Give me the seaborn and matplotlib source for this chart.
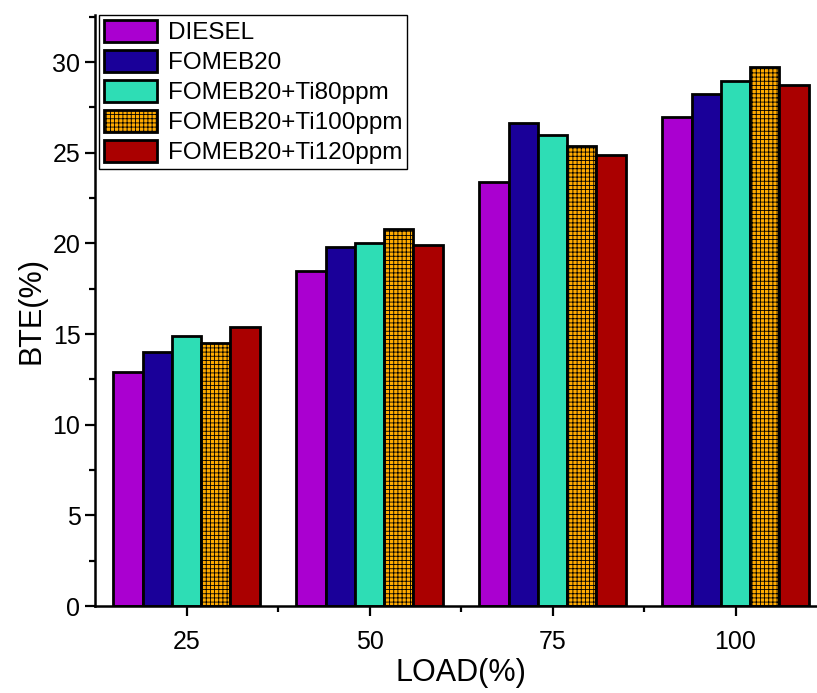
import numpy as np
import pandas as pd
import matplotlib
matplotlib.use("Agg")
import matplotlib.pyplot as plt
import seaborn as sns
from matplotlib.ticker import MultipleLocator, FixedLocator

# values
loads = ["25", "50", "75", "100"]
fuels = ["DIESEL", "FOMEB20", "FOMEB20+Ti80ppm", "FOMEB20+Ti100ppm", "FOMEB20+Ti120ppm"]
diesel = [12.9, 18.5, 23.4, 27.0]
fomeb20 = [14.0, 19.8, 26.65, 28.25]
ti80 = [14.9, 20.05, 26.0, 28.95]
ti100 = [14.5, 20.8, 25.35, 29.75]
ti120 = [15.4, 19.9, 24.85, 28.75]
colors = ["#AA00D0", "#1A0099", "#2EDDB5", "#FFAA00", "#AA0000"]

series = [diesel, fomeb20, ti80, ti100, ti120]
df = pd.DataFrame({
    "LOAD": np.tile(loads, len(fuels)),
    "fuel": np.repeat(fuels, len(loads)),
    "BTE": np.concatenate(series),
})

sns.set_style("ticks")
plt.rcParams["font.family"] = ["Liberation Sans", "DejaVu Sans"]
plt.rcParams["hatch.linewidth"] = 0.6
for key in ["text.color", "axes.labelcolor", "xtick.color", "ytick.color", "axes.edgecolor"]:
    plt.rcParams[key] = "black"

fig = plt.figure(figsize=(8.17, 6.93), dpi=100)
ax = fig.add_axes([95 / 817, 87 / 693, 4 * 183 / 817, 591 / 693])

sns.barplot(data=df, x="LOAD", y="BTE", hue="fuel", order=loads, hue_order=fuels,
            palette=colors, width=0.8, edgecolor="black", linewidth=2,
            saturation=1, ax=ax)

# grid pattern on the Ti100ppm bars
for bar in ax.containers[3]:
    bar.set_hatch("++++")

ax.set_xlim(-0.5, 3.5)
ax.set_ylim(0, 32.6)
ax.yaxis.set_major_locator(MultipleLocator(5))
ax.yaxis.set_minor_locator(MultipleLocator(2.5))
ax.xaxis.set_minor_locator(FixedLocator([0.5, 1.5, 2.5]))
ax.tick_params(which="major", direction="out", length=7, width=1.6, labelsize=18)
ax.tick_params(which="minor", direction="out", length=4, width=1.6)
ax.tick_params(axis="x", pad=10)

for side in ["top", "right"]:
    ax.spines[side].set_visible(False)
for side in ["left", "bottom"]:
    ax.spines[side].set_linewidth(1.8)

ax.set_xlabel("LOAD(%)", fontsize=22, labelpad=3)
ax.set_ylabel("BTE(%)", fontsize=22, labelpad=4)

handles, labels = ax.get_legend_handles_labels()
leg = ax.legend(handles, labels, loc="upper left", bbox_to_anchor=(0.005, 1.0),
                fontsize=17.5, frameon=True, fancybox=False, framealpha=1,
                edgecolor="black", handlelength=2.2, handleheight=1.05,
                labelspacing=0.22, borderpad=0.2, handletextpad=0.45,
                borderaxespad=0.0)
leg.get_frame().set_linewidth(1.0)
for patch in leg.get_patches():
    patch.set_edgecolor("black")
    patch.set_linewidth(2)
leg.get_patches()[3].set_hatch("++++")

fig.savefig("out.png", dpi=100)
